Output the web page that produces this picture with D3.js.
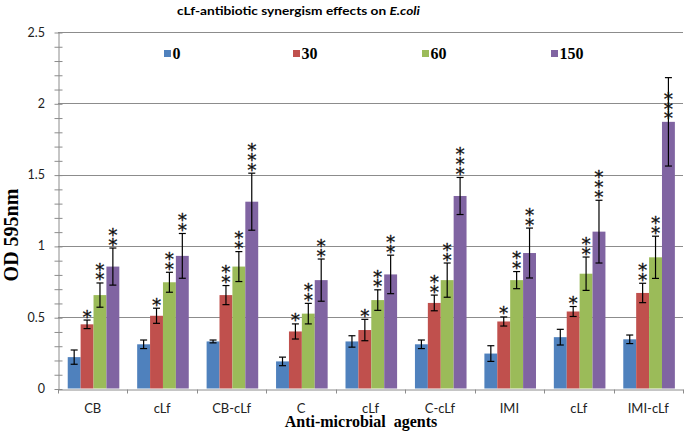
<!DOCTYPE html>
<html>
<head>
<meta charset="utf-8">
<script src="https://cdn.jsdelivr.net/npm/d3@7"></script>
<style>
  html, body { margin: 0; padding: 0; background: #fff; }
  svg { display: block; }
</style>
</head>
<body>
<svg id="chart" width="685" height="440"></svg>
<script>
// ---------------- DATA ----------------
const categories = ["CB", "cLf", "CB-cLf", "C", "cLf", "C-cLf", "IMI", "cLf", "IMI-cLf"];
const series = ["0", "30", "60", "150"];
const colors = ["#4F81BD", "#C0504D", "#9BBB59", "#8064A2"];

const values0   = [0.22, 0.31, 0.33, 0.19, 0.33, 0.31, 0.245, 0.36, 0.345];
const values30  = [0.45, 0.51, 0.655, 0.40, 0.41, 0.60, 0.47, 0.54, 0.67];
const values60  = [0.655, 0.745, 0.855, 0.525, 0.62, 0.76, 0.76, 0.805, 0.92];
const values150 = [0.855, 0.93, 1.31, 0.76, 0.80, 1.35, 0.95, 1.10, 1.87];

const err0   = [0.05, 0.03, 0.01, 0.03, 0.04, 0.03, 0.055, 0.055, 0.03];
const err30  = [0.03, 0.053, 0.067, 0.053, 0.075, 0.055, 0.032, 0.035, 0.068];
const err60  = [0.085, 0.07, 0.105, 0.072, 0.072, 0.12, 0.06, 0.117, 0.148];
const err150 = [0.13, 0.157, 0.2, 0.148, 0.135, 0.13, 0.175, 0.22, 0.31];

const stars0   = [0, 0, 0, 0, 0, 0, 0, 0, 0];
const stars30  = [1, 1, 2, 1, 1, 2, 1, 1, 2];
const stars60  = [2, 2, 2, 2, 2, 2, 2, 2, 2];
const stars150 = [2, 2, 3, 2, 2, 3, 2, 3, 3];

const yTicks = [0, 0.5, 1, 1.5, 2, 2.5];
const yMinorStep = 0.1;
const yMax = 2.5;

const title = "cLf-antibiotic synergism effects on ";
const titleItalic = "E.coli";
const yTitle = "OD 595nm";
const xTitle = "Anti-microbial  agents";

// ---------------- LAYOUT ----------------
const allValues = [values0, values30, values60, values150];
const allErr = [err0, err30, err60, err150];
const allStars = [stars0, stars30, stars60, stars150];

const svg = d3.select("#chart");
const plot = { left: 58, right: 683, top: 32, bottom: 388.5 };

const x = d3.scaleBand().domain(d3.range(categories.length)).range([plot.left, plot.right]).padding(0);
const bw = x.bandwidth();
const groupW = bw * 0.743;
const xs = d3.scaleBand().domain(d3.range(series.length))
  .range([(bw - groupW) / 2 + 0.8, (bw - groupW) / 2 + 0.8 + groupW]).padding(0);
const y = d3.scaleLinear().domain([0, yMax]).range([plot.bottom, plot.top]);

const gridColor = "#8c8c8c";

// gridlines
svg.append("g").selectAll("line").data(yTicks.filter(t => t > 0)).join("line")
  .attr("x1", plot.left).attr("x2", plot.right)
  .attr("y1", d => Math.round(y(d)) + 0.5).attr("y2", d => Math.round(y(d)) + 0.5)
  .attr("stroke", gridColor).attr("stroke-width", 1);

// y axis with minor ticks
const minorTicks = d3.range(0, yMax + 1e-9, yMinorStep);
const yAxis = d3.axisLeft(y).tickValues(minorTicks).tickSize(0).tickFormat("");
const gy = svg.append("g").attr("transform", `translate(${plot.left + 0.5},0)`).call(yAxis);
gy.select(".domain").attr("stroke", gridColor);
gy.selectAll(".tick").append("line")
  .attr("x1", -4).attr("x2", 4).attr("stroke", gridColor)
  .attr("transform", "translate(0,0.5)");

// y tick labels
svg.append("g").selectAll("text").data(yTicks).join("text")
  .attr("x", 45).attr("y", d => y(d) + 4.5)
  .attr("text-anchor", "end")
  .attr("font-family", "Lato, 'Open Sans', sans-serif")
  .attr("font-size", "12.5px")
  .attr("fill", "#222")
  .text(d => d3.format("")(d));

// x axis
const xAxis = d3.axisBottom(x).tickSize(0).tickFormat("");
const gx = svg.append("g").attr("transform", `translate(0,${Math.round(plot.bottom) + 0.5})`).call(xAxis);
gx.select(".domain").attr("stroke", gridColor);
gx.selectAll(".tick").remove();
const boundaries = d3.range(categories.length + 1).map(i => i < categories.length ? x(i) : x(categories.length - 1) + bw);
gx.selectAll("line.bt").data(boundaries).join("line")
  .attr("class", "bt")
  .attr("x1", d => Math.round(d) + 0.5).attr("x2", d => Math.round(d) + 0.5)
  .attr("y1", 0).attr("y2", 4)
  .attr("stroke", gridColor);

// category labels
svg.append("g").selectAll("text").data(categories).join("text")
  .attr("x", (d, i) => x(i) + bw / 2)
  .attr("y", 413)
  .attr("text-anchor", "middle")
  .attr("font-family", "Lato, 'Open Sans', sans-serif")
  .attr("font-size", "13px")
  .attr("fill", "#222")
  .text(d => d);

// bars
const barData = [];
allValues.forEach((vals, s) => {
  vals.forEach((v, c) => barData.push({ s, c, v, e: allErr[s][c], n: allStars[s][c] }));
});

const bars = svg.append("g");
bars.selectAll("rect").data(barData).join("rect")
  .attr("x", d => x(d.c) + xs(d.s))
  .attr("width", xs.bandwidth())
  .attr("y", d => y(d.v))
  .attr("height", d => y(0) - y(d.v))
  .attr("fill", d => colors[d.s]);

// error bars
const eb = svg.append("g").attr("stroke", "#000").attr("stroke-width", 1.2);
barData.forEach(d => {
  const cx = x(d.c) + xs(d.s) + xs.bandwidth() / 2;
  const y1 = y(d.v + d.e), y2 = y(d.v - d.e);
  eb.append("line").attr("x1", cx).attr("x2", cx).attr("y1", y1).attr("y2", y2);
  eb.append("line").attr("x1", cx - 3.5).attr("x2", cx + 3.5).attr("y1", y1).attr("y2", y1);
  eb.append("line").attr("x1", cx - 3.5).attr("x2", cx + 3.5).attr("y1", y2).attr("y2", y2);
});

// significance stars (one text per stack, positioned by the glyph's ink box)
const starSize = 18.5;
const ctx = document.createElement("canvas").getContext("2d");
ctx.font = `${starSize}px 'DejaVu Sans'`;
const m = ctx.measureText("*");
const inkBottom = m.actualBoundingBoxDescent;   // negative => above baseline
const inkH = m.actualBoundingBoxAscent + m.actualBoundingBoxDescent;
const pitch = Math.max(inkH + 0.8, 9.5);

const sg = svg.append("g");
barData.filter(d => d.n > 0).forEach(d => {
  const cx = x(d.c) + xs(d.s) + xs.bandwidth() / 2;
  const anchorVal = (d.v + d.e > 2) ? d.v : d.v + d.e;
  const bottom = y(anchorVal) - 1.5;
  const txt = sg.append("text")
    .attr("x", cx)
    .attr("y", bottom - inkBottom)
    .attr("text-anchor", "middle")
    .attr("font-family", "'DejaVu Sans', sans-serif")
    .attr("font-size", `${starSize}px`)
    .attr("fill", "#111")
    .attr("stroke", "#111").attr("stroke-width", 0.3);
  for (let i = 0; i < d.n; i++) {
    txt.append("tspan")
      .attr("x", cx)
      .attr("dy", i === 0 ? 0 : -pitch)
      .text("*");
  }
});

// legend
const lx = d3.scalePoint().domain(series).range([164, 551]);
const lg = svg.append("g");
series.forEach((s, i) => {
  lg.append("rect").attr("x", lx(s)).attr("y", 50).attr("width", 7).attr("height", 7).attr("fill", colors[i]);
  lg.append("text").attr("x", lx(s) + 8.5).attr("y", 58.5)
    .attr("font-family", "'Liberation Serif', 'Times New Roman', serif")
    .attr("font-weight", "bold").attr("font-size", "16px").attr("fill", "#000")
    .text(s);
});

// title
const t = svg.append("text").attr("x", 177).attr("y", 14.5)
  .attr("font-family", "Lato, 'Open Sans', sans-serif")
  .attr("font-weight", "bold").attr("font-size", "11.5px").attr("fill", "#000")
  .attr("textLength", 243).attr("lengthAdjust", "spacingAndGlyphs");
t.append("tspan").text(title);
t.append("tspan").attr("font-style", "italic").text(titleItalic);

// y title
svg.append("text")
  .attr("transform", "translate(18,235) rotate(-90)")
  .attr("text-anchor", "middle")
  .attr("font-family", "'Liberation Serif', 'Times New Roman', serif")
  .attr("font-weight", "bold").attr("font-size", "20px").attr("fill", "#000")
  .text(yTitle);

// x title
svg.append("text")
  .attr("x", 361).attr("y", 427)
  .attr("text-anchor", "middle")
  .attr("font-family", "'Liberation Serif', 'Times New Roman', serif")
  .attr("font-weight", "bold").attr("font-size", "16px").attr("fill", "#000")
  .style("white-space", "pre")
  .text(xTitle);
</script>
</body>
</html>
